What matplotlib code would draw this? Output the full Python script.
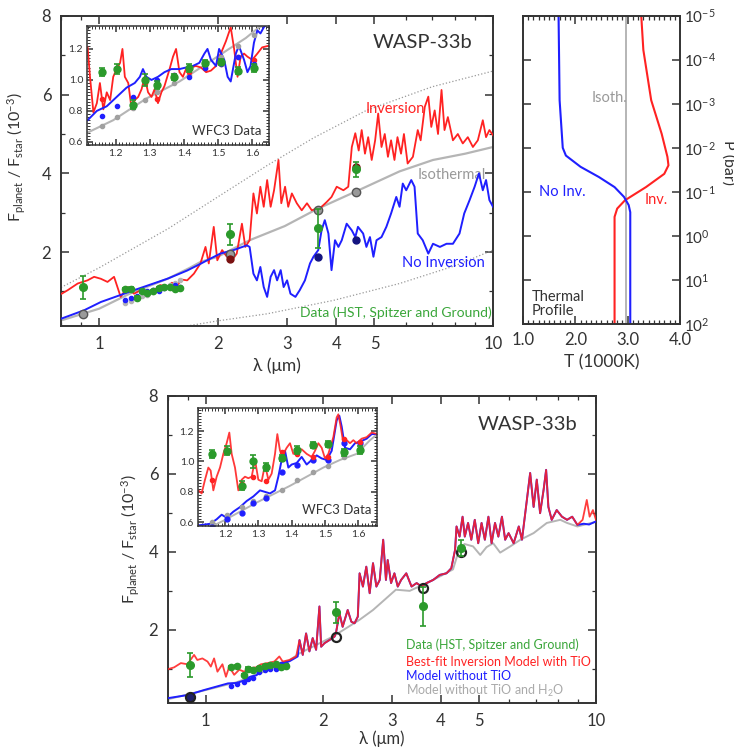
import numpy as np
import matplotlib
matplotlib.use('Agg')
import matplotlib.pyplot as plt
from matplotlib.ticker import FixedLocator, NullFormatter, MultipleLocator, FuncFormatter

plt.rcParams['font.family'] = ['Lato', 'DejaVu Sans']
plt.rcParams['mathtext.fontset'] = 'custom'
plt.rcParams['mathtext.rm'] = 'Lato'
plt.rcParams['mathtext.it'] = 'Lato:italic'
plt.rcParams['mathtext.fallback'] = 'stixsans'

RED = '#ff2222'
BLUE = '#1f1fff'
GRAY = '#b5b5b5'
GREEN = '#2b9a2b'
DARK = '#333333'

# ---------------- data: observations ----------------
bb_lam = [0.91, 2.15, 3.6, 4.5]
bb_F = [1.1, 2.45, 2.6, 4.1]
bb_err = [0.3, 0.27, 0.5, 0.2]

wfc_lam = [1.16, 1.205, 1.25, 1.285, 1.322, 1.37, 1.416, 1.463, 1.51, 1.557, 1.605]
wfc_F = [1.05, 1.07, 0.84, 1.0, 0.965, 1.02, 1.075, 1.11, 1.115, 1.06, 1.075]
wfc_err = [0.025, 0.03, 0.03, 0.04, 0.025, 0.02, 0.025, 0.02, 0.02, 0.025, 0.025]

# ---------------- top panel models ----------------
inv_lam = [0.803, 0.832, 0.882, 0.934, 0.971, 1.010, 1.050, 1.091, 1.134, 1.179, 1.226, 1.275,
           1.325, 1.378, 1.430, 1.489, 1.530, 1.578, 1.620, 1.673, 1.740,
           1.808, 1.862, 1.898, 1.954, 1.995, 2.052, 2.110, 2.174, 2.235, 2.304, 2.350, 2.410,
           2.464, 2.515, 2.566, 2.617, 2.670, 2.725, 2.780, 2.853, 2.900, 2.965, 3.020, 3.085,
           3.175, 3.268, 3.370, 3.466, 3.570, 3.670, 3.780, 3.890, 4.010, 4.170, 4.290, 4.380,
           4.470, 4.560, 4.640, 4.730, 4.820, 4.920, 5.020, 5.110, 5.210, 5.310, 5.410, 5.510,
           5.620, 5.720, 5.840, 5.940, 6.070, 6.260, 6.440, 6.550, 6.710, 6.850, 6.970, 7.110,
           7.250, 7.400, 7.530, 7.680, 7.910, 8.140, 8.380, 8.630, 8.890, 9.150, 9.420, 9.600,
           9.790, 10.0]
inv_F = [0.94, 1.03, 1.20, 1.28, 1.37, 1.32, 1.24, 1.37, 0.86, 1.11, 0.94, 1.03,
         0.94, 1.03, 1.16, 1.11, 1.22, 1.15, 1.30, 1.28, 1.45,
         1.71, 2.13, 1.71, 2.64, 1.79, 2.05, 1.88, 1.79, 1.96, 2.72, 2.13, 2.30,
         3.49, 2.98, 3.66, 3.15, 3.83, 3.15, 3.57, 4.34, 3.24, 3.66, 3.15, 3.49,
         3.24, 3.06, 3.24, 3.06, 3.11, 3.15, 3.27, 3.40, 3.66, 3.57, 3.66, 4.67,
         5.02, 4.58, 5.10, 4.50, 4.92, 4.34, 4.84, 5.52, 4.67, 5.00, 4.42, 4.84,
         4.34, 4.92, 4.50, 5.00, 4.25, 4.42, 5.10, 4.84, 5.69, 5.95, 5.18, 5.60,
         5.00, 6.12, 5.10, 5.43, 4.84, 5.00, 4.76, 4.92, 4.67, 4.84, 5.35, 4.92,
         5.10, 4.97]

noinv_lam = [0.803, 0.916, 1.010, 1.226, 1.489, 1.673, 1.808, 1.880, 2.030, 2.195, 2.370, 2.410,
             2.464, 2.515, 2.566, 2.617, 2.670, 2.725, 2.780, 2.830, 2.890, 2.940, 3.000, 3.060,
             3.150, 3.230, 3.330, 3.430, 3.500, 3.600, 3.670, 3.740, 3.820, 3.890, 3.970, 4.050,
             4.130, 4.250, 4.380, 4.470, 4.540, 4.680, 4.770, 4.870, 4.970, 5.060, 5.210, 5.360,
             5.510, 5.680, 5.790, 5.900, 6.020, 6.200, 6.320, 6.440, 6.630, 6.850, 7.040, 7.330,
             7.620, 7.910, 8.220, 8.450, 8.720, 8.980, 9.210, 9.420, 9.600, 9.790, 10.0]
noinv_F = [0.31, 0.52, 0.73, 1.03, 1.32, 1.53, 1.70, 1.79, 1.96, 2.05, 2.17, 2.13,
           1.45, 1.28, 1.62, 1.11, 0.86, 1.37, 1.54, 1.28, 1.54, 1.11, 1.28, 0.94,
           0.86, 1.03, 1.28, 1.71, 1.88, 2.05, 2.55, 2.81, 2.47, 1.54, 2.30, 2.13,
           2.30, 2.72, 2.55, 2.38, 2.64, 2.47, 2.13, 2.38, 1.88, 2.30, 2.38, 2.64,
           2.98, 3.40, 3.15, 3.74, 3.57, 3.83, 3.66, 2.47, 2.30, 1.96, 2.21, 2.13,
           2.21, 2.21, 2.47, 2.98, 3.32, 3.66, 4.00, 3.57, 3.83, 3.32, 3.15]

iso_lam = [0.8, 1.0, 1.2, 1.5, 1.7, 1.81, 2.0, 2.41, 2.96, 3.57, 4.51, 5.79, 7.04, 8.5, 10.0]
iso_F = [0.26, 0.56, 0.95, 1.33, 1.60, 1.75, 1.88, 2.30, 2.66, 3.09, 3.55, 4.05, 4.34, 4.50, 4.67]

hot_lam = [0.8, 1.0, 1.5, 2.0, 2.67, 3.5, 4.77, 7.0, 10.0]
hot_F = [1.1, 1.6, 2.6, 3.4, 4.2, 4.9, 5.6, 6.2, 6.6]
cold_lam = [1.67, 2.0, 2.67, 3.93, 5.79, 8.0, 10.0]
cold_F = [0.12, 0.25, 0.43, 0.77, 1.20, 1.65, 2.05]

top_iso_bb = [0.43, 1.94, 3.08, 3.53]
top_noinv_bb_lam = [3.6, 4.5]
top_noinv_bb = [1.88, 2.30]
top_inv_bb_lam = [2.15, 4.5]
top_inv_bb = [1.83, 4.15]

# top inset (WFC3 zoom)
ti_inv_lam = [1.118, 1.125, 1.135, 1.145, 1.154, 1.164, 1.174, 1.184, 1.193, 1.203, 1.213, 1.220,
              1.227, 1.237, 1.247, 1.256, 1.266, 1.276, 1.285, 1.295, 1.305, 1.314, 1.324, 1.334,
              1.343, 1.358, 1.368, 1.377, 1.387, 1.397, 1.406, 1.421, 1.435, 1.450, 1.465, 1.479,
              1.494, 1.508, 1.523, 1.537, 1.547, 1.557, 1.566, 1.576, 1.586, 1.600, 1.615, 1.629, 1.647]
ti_inv_F = [1.21, 1.02, 0.79, 0.85, 0.98, 0.81, 0.92, 0.87, 1.02, 1.07, 1.11, 1.20,
            1.02, 0.98, 0.81, 0.87, 0.89, 0.94, 1.02, 0.92, 0.89, 0.94, 0.85, 0.92,
            0.96, 1.07, 1.15, 1.20, 1.05, 1.02, 1.07, 1.08, 1.09, 1.08, 1.05, 1.06,
            1.09, 1.17, 1.25, 1.34, 1.20, 1.02, 1.15, 1.17, 1.15, 1.13, 1.17, 1.21, 1.22]
ti_noinv_lam = [1.118, 1.145, 1.174, 1.203, 1.232, 1.256, 1.271, 1.280, 1.290, 1.305, 1.324, 1.343,
                1.363, 1.387, 1.406, 1.426, 1.445, 1.460, 1.469, 1.479, 1.494, 1.503, 1.518, 1.528,
                1.537, 1.552, 1.561, 1.576, 1.586, 1.595, 1.605, 1.615, 1.624, 1.634, 1.647]
ti_noinv_F = [0.74, 0.80, 0.83, 0.89, 0.95, 0.98, 1.02, 1.07, 1.02, 1.00, 1.02, 1.05,
              1.07, 1.07, 1.08, 1.09, 1.11, 1.17, 1.20, 1.13, 1.09, 1.20, 1.13, 1.02,
              0.99, 1.17, 1.22, 1.13, 1.05, 1.09, 1.24, 1.32, 1.30, 1.34, 1.37]
ti_iso_lam = [1.118, 1.193, 1.290, 1.387, 1.484, 1.532, 1.581, 1.620, 1.647]
ti_iso_F = [0.66, 0.74, 0.88, 0.99, 1.13, 1.20, 1.27, 1.34, 1.36]
ti_inv_dots = [0.88, 1.08, 0.84, 0.98, 0.88, 1.03, 1.05, 1.08, 1.10, 1.15, 1.13]
ti_noinv_dots = [0.77, 0.83, 0.89, 1.00, 1.00, 1.03, 1.02, 1.08, 1.10, 1.15, 1.10]
ti_iso_dots = [0.70, 0.76, 0.82, 0.87, 0.92, 0.98, 1.03, 1.09, 1.15, 1.22, 1.29]

# thermal profiles
tp_noinv_T = [1.68, 1.70, 1.76, 1.82, 2.10, 2.45, 2.75, 2.93, 3.02, 3.05, 3.05]
tp_noinv_P = [1e-5, 8.3e-4, 1e-2, 1.5e-2, 2.7e-2, 4.6e-2, 7.8e-2, 0.13, 0.2, 0.29, 100.0]
tp_inv_T = [3.26, 3.30, 3.45, 3.65, 3.76, 3.78, 3.70, 3.35, 2.95, 2.80, 2.75, 2.75]
tp_inv_P = [1e-5, 6e-5, 8.3e-4, 4.8e-3, 1.6e-2, 2.5e-2, 3.9e-2, 7.8e-2, 0.155, 0.24, 0.37, 100.0]
tp_iso_T = 2.97

# ---------------- bottom panel models ----------------
tio_lam = [0.797, 0.829, 0.863, 0.897, 0.933, 0.951, 0.980, 1.010, 1.030, 1.050, 1.071, 1.103,
           1.126, 1.148, 1.182, 1.218, 1.254, 1.292, 1.344, 1.385, 1.440, 1.498, 1.543, 1.574,
           1.637, 1.704, 1.738, 1.772, 1.807, 1.843, 1.879, 1.917, 1.955, 1.975, 2.014, 2.074,
           2.138, 2.159, 2.200, 2.242, 2.310, 2.360, 2.405, 2.452, 2.478, 2.527, 2.578, 2.630,
           2.682, 2.736, 2.791, 2.848, 2.895, 2.925, 2.984, 3.043, 3.104, 3.166, 3.264, 3.367,
           3.470, 3.573, 3.680, 3.826, 3.977, 4.138, 4.257, 4.353, 4.391, 4.470, 4.550, 4.610,
           4.700, 4.790, 4.890, 4.990, 5.090, 5.190, 5.300, 5.400, 5.510, 5.620, 5.740, 5.850,
           5.970, 6.150, 6.340, 6.460, 6.650, 6.780, 6.920, 7.050, 7.190, 7.340, 7.450, 7.550,
           7.700, 7.930, 8.180, 8.430, 8.690, 8.960, 9.240, 9.470, 9.630, 9.820, 10.0]
tio_F = [0.99, 1.04, 1.15, 1.12, 1.36, 1.23, 1.27, 1.19, 1.06, 1.27, 0.93, 1.12,
         0.80, 1.06, 0.85, 0.98, 0.93, 1.02, 1.04, 1.12, 1.15, 1.19, 1.32, 1.19,
         1.23, 1.32, 1.74, 1.36, 1.91, 1.45, 1.79, 1.49, 2.60, 1.57, 1.66, 1.74,
         1.83, 1.96, 2.43, 2.08, 2.51, 2.21, 2.17, 2.34, 3.45, 3.11, 3.62, 2.94,
         3.71, 3.11, 3.28, 4.31, 3.28, 3.79, 3.20, 3.45, 3.11, 3.28, 3.45, 3.11,
         3.20, 3.11, 3.20, 3.28, 3.41, 3.45, 3.58, 4.05, 4.65, 4.39, 4.90, 4.39,
         4.74, 4.31, 4.82, 4.22, 4.74, 4.31, 4.90, 4.22, 4.74, 4.39, 4.90, 4.31,
         4.48, 4.22, 4.65, 4.31, 5.33, 6.02, 5.15, 5.85, 4.99, 5.59, 6.10, 5.15,
         4.82, 5.07, 4.90, 4.82, 4.90, 4.69, 4.82, 5.33, 4.90, 5.07, 4.82]

notio_low_lam = [0.797, 0.897, 0.990, 1.140, 1.200, 1.250, 1.300, 1.350, 1.380, 1.410, 1.500, 1.558, 1.640, 1.720]
notio_low_F = [0.25, 0.33, 0.46, 0.63, 0.64, 0.70, 0.80, 0.84, 1.00, 1.02, 1.06, 1.15, 1.20, 1.32]
notio_tail_lam = [9.3, 9.6, 10.0]
notio_tail_F = [4.72, 4.70, 4.78]

noh2o_lam = [0.797, 1.000, 1.200, 1.400, 1.600, 1.738, 2.117, 2.478, 2.682, 2.870, 3.070, 3.330,
             3.680, 3.980, 4.300, 4.430, 4.600, 4.840, 5.050, 5.240, 5.450, 5.680, 6.030, 6.400,
             6.920, 7.480, 8.100, 8.430, 8.960, 10.0]
noh2o_F = [0.22, 0.46, 0.66, 0.92, 1.15, 1.40, 1.83, 2.26, 2.51, 2.77, 3.03, 3.00,
           3.20, 3.37, 3.55, 3.97, 4.20, 4.14, 3.92, 4.12, 4.22, 3.98, 4.14, 4.31,
           4.48, 4.74, 4.82, 4.74, 4.65, 4.77]

bot_model_bb = [0.28, 1.83, 3.08, 4.00]

# bottom inset
bi_tio_lam = [1.120, 1.130, 1.140, 1.150, 1.157, 1.165, 1.175, 1.185, 1.195, 1.205, 1.213, 1.220,
              1.230, 1.240, 1.250, 1.260, 1.270, 1.280, 1.290, 1.300, 1.310, 1.320, 1.330, 1.340,
              1.350, 1.357, 1.365, 1.375, 1.385, 1.395, 1.405, 1.415, 1.430, 1.445, 1.460, 1.470,
              1.480, 1.490, 1.500, 1.510, 1.525, 1.535, 1.540, 1.547, 1.555, 1.565, 1.575, 1.585,
              1.595, 1.610, 1.625, 1.640, 1.657]
bi_tio_F = [0.81, 0.79, 0.88, 0.96, 0.94, 0.81, 0.90, 0.96, 1.05, 1.12, 1.19, 1.05,
            0.96, 0.81, 0.88, 0.90, 0.89, 0.90, 1.01, 0.88, 0.87, 0.98, 0.88, 0.92,
            1.05, 1.18, 1.07, 1.05, 1.09, 1.12, 1.05, 1.07, 1.08, 1.05, 1.03, 1.07,
            1.12, 1.09, 1.02, 1.05, 1.16, 1.29, 1.31, 1.23, 1.12, 1.14, 1.12, 1.14,
            1.12, 1.15, 1.16, 1.19, 1.18]
bi_notio_lam = [1.120, 1.155, 1.175, 1.190, 1.205, 1.225, 1.245, 1.265, 1.285, 1.305, 1.320, 1.335,
                1.350, 1.360, 1.370, 1.380, 1.390, 1.400, 1.415, 1.430, 1.445, 1.460, 1.475, 1.490,
                1.505, 1.520, 1.535, 1.543, 1.550, 1.560, 1.575, 1.590, 1.605, 1.625, 1.640, 1.657]
bi_notio_F = [0.58, 0.59, 0.62, 0.65, 0.63, 0.67, 0.70, 0.74, 0.77, 0.81, 0.80, 0.79,
              0.81, 0.90, 1.01, 1.07, 0.96, 0.98, 0.99, 1.03, 0.98, 1.01, 1.04, 1.02,
              1.01, 1.07, 1.27, 1.30, 1.23, 1.09, 1.08, 1.12, 1.13, 1.15, 1.18, 1.18]
bi_noh2o_lam = [1.12, 1.195, 1.295, 1.395, 1.495, 1.545, 1.595, 1.635, 1.657]
bi_noh2o_F = [0.53, 0.61, 0.73, 0.84, 0.96, 1.01, 1.05, 1.14, 1.18]
bi_tio_dots = [0.88, 1.07, 0.85, 0.90, 0.87, 1.06, 1.05, 1.03, 1.03, 1.15, 1.13]
bi_notio_dots = [0.57, 0.62, 0.66, 0.73, 0.76, 0.93, 0.98, 1.01, 1.01, 1.12, 1.12]
bi_noh2o_dots = [0.60, 0.65, 0.70, 0.74, 0.77, 0.81, 0.88, 0.93, 0.97, 1.03, 1.10]


def style_axes(ax, lw=1.4):
    for s in ax.spines.values():
        s.set_color(DARK)
        s.set_linewidth(lw)
    ax.tick_params(which='both', direction='in', top=True, right=True, colors=DARK)
    ax.tick_params(which='major', length=6, width=1.1)
    ax.tick_params(which='minor', length=3, width=0.9)


def setup_main(ax):
    ax.set_xscale('log')
    ax.set_xlim(0.8, 10)
    ax.set_ylim(0.12, 8)
    ax.xaxis.set_major_locator(FixedLocator([1, 2, 3, 4, 5, 10]))
    ax.xaxis.set_major_formatter(FuncFormatter(lambda v, p: '%d' % v))
    ax.xaxis.set_minor_locator(FixedLocator([0.8, 0.9, 6, 7, 8, 9]))
    ax.xaxis.set_minor_formatter(NullFormatter())
    ax.yaxis.set_major_locator(FixedLocator([2, 4, 6, 8]))
    ax.yaxis.set_minor_locator(FixedLocator([1, 3, 5, 7]))
    style_axes(ax)
    ax.tick_params(which='major', labelsize=12, pad=7)
    ax.set_ylabel(r'F$_{\mathrm{planet}}$ / F$_{\mathrm{star}}$ (10$^{-3}$)', fontsize=11.5, color=DARK)


def setup_inset(ax):
    ax.set_xlim(1.117, 1.65)
    ax.set_ylim(0.578, 1.35)
    ax.xaxis.set_major_locator(MultipleLocator(0.1))
    ax.xaxis.set_minor_locator(MultipleLocator(0.01))
    ax.yaxis.set_major_locator(MultipleLocator(0.2))
    ax.yaxis.set_minor_locator(MultipleLocator(0.02))
    ax.xaxis.set_major_formatter(FuncFormatter(lambda v, p: '%.1f' % v))
    ax.yaxis.set_major_formatter(FuncFormatter(lambda v, p: '%.1f' % v))
    style_axes(ax, lw=1.1)
    ax.tick_params(which='major', length=4, labelsize=7.5, pad=3)
    ax.tick_params(which='minor', length=2, width=0.7)


def green_points(ax, lam, F, err, ms=5.5):
    ax.errorbar(lam, F, yerr=err, fmt='o', color=GREEN, ms=ms, capsize=2, elinewidth=1.2,
                capthick=1.2, zorder=6)


fig = plt.figure(figsize=(7.34, 7.47), dpi=100)

# ================= top left =================
ax1 = fig.add_axes([0.0831, 0.5636, 0.5886, 0.4150])
setup_main(ax1)
ax1.set_xlabel('λ (μm)', fontsize=12.5, color=DARK, labelpad=4)
ax1.plot(hot_lam, hot_F, ls=':', color='#999999', lw=0.9)
ax1.plot(cold_lam, cold_F, ls=':', color='#999999', lw=0.9)
ax1.plot(iso_lam, iso_F, color=GRAY, lw=1.6, zorder=2)
ax1.plot(inv_lam, inv_F, color=RED, lw=1.3, zorder=3)
ax1.plot(noinv_lam, noinv_F, color=BLUE, lw=1.4, zorder=4)
ax1.plot(wfc_lam, ti_iso_dots, 'o', color=GRAY, ms=3, zorder=3)
ax1.plot(wfc_lam, ti_noinv_dots, 'o', color=BLUE, ms=3, zorder=4)
ax1.plot(bb_lam, top_iso_bb, 'o', mfc='#9a9a9a', mec='#555555', ms=6, zorder=5)
ax1.plot(top_noinv_bb_lam, top_noinv_bb, 'o', color='#141480', ms=5, zorder=5)
ax1.plot(top_inv_bb_lam, top_inv_bb, 'o', color='#7a1010', ms=5, zorder=5)
green_points(ax1, bb_lam, bb_F, bb_err)
green_points(ax1, wfc_lam, wfc_F, wfc_err, ms=4.5)
ax1.text(0.838, 0.913, 'WASP-33b', transform=ax1.transAxes, fontsize=14.5, color=DARK,
         ha='center', va='center')
ax1.text(0.704, 0.70, 'Inversion', transform=ax1.transAxes, fontsize=10.5, color=RED, va='center')
ax1.text(0.826, 0.487, 'Isothermal', transform=ax1.transAxes, fontsize=10.5, color='#999999', va='center')
ax1.text(0.789, 0.203, 'No Inversion', transform=ax1.transAxes, fontsize=10.5, color=BLUE, va='center')
ax1.text(0.553, 0.042, 'Data (HST, Spitzer and Ground)', transform=ax1.transAxes, fontsize=10,
         color='#3aa63a', va='center')
ax1.yaxis.set_label_coords(-0.076, 0.546)

axi1 = fig.add_axes([0.1189, 0.8055, 0.2480, 0.1601])
setup_inset(axi1)
axi1.plot(ti_iso_lam, ti_iso_F, color=GRAY, lw=1.5)
axi1.plot(ti_inv_lam, ti_inv_F, color=RED, lw=1.3)
axi1.plot(ti_noinv_lam, ti_noinv_F, color=BLUE, lw=1.4)
axi1.plot(wfc_lam, ti_iso_dots, 'o', color='#a0a0a0', ms=3)
axi1.plot(wfc_lam, ti_inv_dots, 'o', color=RED, ms=3)
axi1.plot(wfc_lam, ti_noinv_dots, 'o', color=BLUE, ms=3)
green_points(axi1, wfc_lam, wfc_F, wfc_err, ms=5)
axi1.text(0.574, 0.122, 'WFC3 Data', transform=axi1.transAxes, fontsize=9.5, color=DARK, va='center')

# ================= top right =================
ax2 = fig.add_axes([0.7125, 0.5663, 0.2139, 0.4127])
ax2.set_yscale('log')
ax2.set_xlim(1.0, 4.0)
ax2.set_ylim(100, 1e-5)
ax2.plot([tp_iso_T, tp_iso_T], [1e-5, 100], color=GRAY, lw=1.4)
ax2.plot(tp_inv_T, tp_inv_P, color=RED, lw=1.5)
ax2.plot(tp_noinv_T, tp_noinv_P, color=BLUE, lw=1.5)
ax2.yaxis.set_major_locator(FixedLocator([10.0 ** k for k in range(-5, 3)]))
ax2.yaxis.set_minor_locator(FixedLocator([]))
ax2.yaxis.set_major_formatter(FuncFormatter(lambda v, p: r'$\mathregular{10^{%d}}$' % round(np.log10(v))))
ax2.xaxis.set_major_locator(MultipleLocator(1.0))
ax2.xaxis.set_minor_locator(MultipleLocator(0.1))
ax2.xaxis.set_major_formatter(FuncFormatter(lambda v, p: '%.1f' % v))
style_axes(ax2)
ax2.tick_params(which='major', labelsize=12, pad=6)
ax2.tick_params(axis='y', which='major', labelsize=11, pad=3)
ax2.tick_params(which='minor', length=3)
ax2.yaxis.tick_right()
ax2.tick_params(axis='y', which='both', left=True, right=True, labelleft=False, labelright=True)
ax2.set_xlabel('T (1000K)', fontsize=12.5, color=DARK, labelpad=4)
fig.text(728 / 734, 1 - 163 / 747, 'P (bar)', rotation=-90, fontsize=11.5, color=DARK,
         ha='center', va='center')
ax2.text(2.31, 7.4e-4, 'Isoth.', fontsize=10.5, color='#999999', va='center')
ax2.text(1.31, 0.1, 'No Inv.', fontsize=10.5, color=BLUE, va='center')
ax2.text(3.32, 0.15, 'Inv.', fontsize=10.5, color=RED, va='center')
ax2.text(0.054, 0.02, 'Thermal\nProfile', transform=ax2.transAxes, fontsize=10.5, color=DARK,
         va='bottom', linespacing=1.0)

# ================= bottom =================
ax3 = fig.add_axes([0.2289, 0.0585, 0.5831, 0.4118])
setup_main(ax3)
ax3.set_xlabel('λ (μm)', fontsize=12, color=DARK, labelpad=1)
notio_lam = notio_low_lam + [l for l in tio_lam if 1.73 < l < 9.2] + notio_tail_lam
notio_F = notio_low_F + [f for l, f in zip(tio_lam, tio_F) if 1.73 < l < 9.2] + notio_tail_F
ax3.plot(noh2o_lam, noh2o_F, color=GRAY, lw=1.4, zorder=2)
ax3.plot(notio_lam, notio_F, color=BLUE, lw=1.4, zorder=3)
ax3.plot(tio_lam, tio_F, color=RED, lw=1.3, alpha=0.88, zorder=4)
ax3.plot(wfc_lam, bi_notio_dots, 'o', color=BLUE, ms=3, zorder=4)
ax3.plot(bb_lam, bot_model_bb, 'o', mfc='none', mec='#222222', mew=1.6, ms=6.5, zorder=5)
ax3.plot(bb_lam[:1], bot_model_bb[:1], 'o', mfc='#20206a', mec='#222222', ms=6, zorder=5)
green_points(ax3, bb_lam, bb_F, bb_err)
green_points(ax3, wfc_lam, wfc_F, wfc_err, ms=4.5)
ax3.text(0.841, 0.905, 'WASP-33b', transform=ax3.transAxes, fontsize=14.5, color=DARK,
         ha='center', va='center')
legend_lines = [('Data (HST, Spitzer and Ground)', '#3aa63a', 0.19),
                ('Best-fit Inversion Model with TiO', RED, 0.134),
                ('Model without TiO', BLUE, 0.089),
                ('Model without TiO and H$_2$O', '#aaaaaa', 0.041)]
for txt, col, yy in legend_lines:
    ax3.text(0.556, yy, txt, transform=ax3.transAxes, fontsize=9, color=col, va='center')
ax3.yaxis.set_label_coords(-0.061, 0.534)

axi3 = fig.add_axes([0.2702, 0.2963, 0.2439, 0.1572])
setup_inset(axi3)
axi3.set_xlim(1.12, 1.657)
axi3.plot(bi_noh2o_lam, bi_noh2o_F, color=GRAY, lw=1.4)
axi3.plot(bi_notio_lam, bi_notio_F, color=BLUE, lw=1.4)
axi3.plot(bi_tio_lam, bi_tio_F, color=RED, lw=1.3, alpha=0.9)
axi3.plot(wfc_lam, bi_noh2o_dots, 'o', color='#a0a0a0', ms=3)
axi3.plot(wfc_lam, bi_notio_dots, 'o', color=BLUE, ms=3.5)
axi3.plot(wfc_lam, bi_tio_dots, 'o', color=RED, ms=3)
green_points(axi3, wfc_lam, wfc_F, wfc_err, ms=5)
axi3.text(0.578, 0.134, 'WFC3 Data', transform=axi3.transAxes, fontsize=9.5, color=DARK, va='center')

fig.savefig('out.png', dpi=100)
